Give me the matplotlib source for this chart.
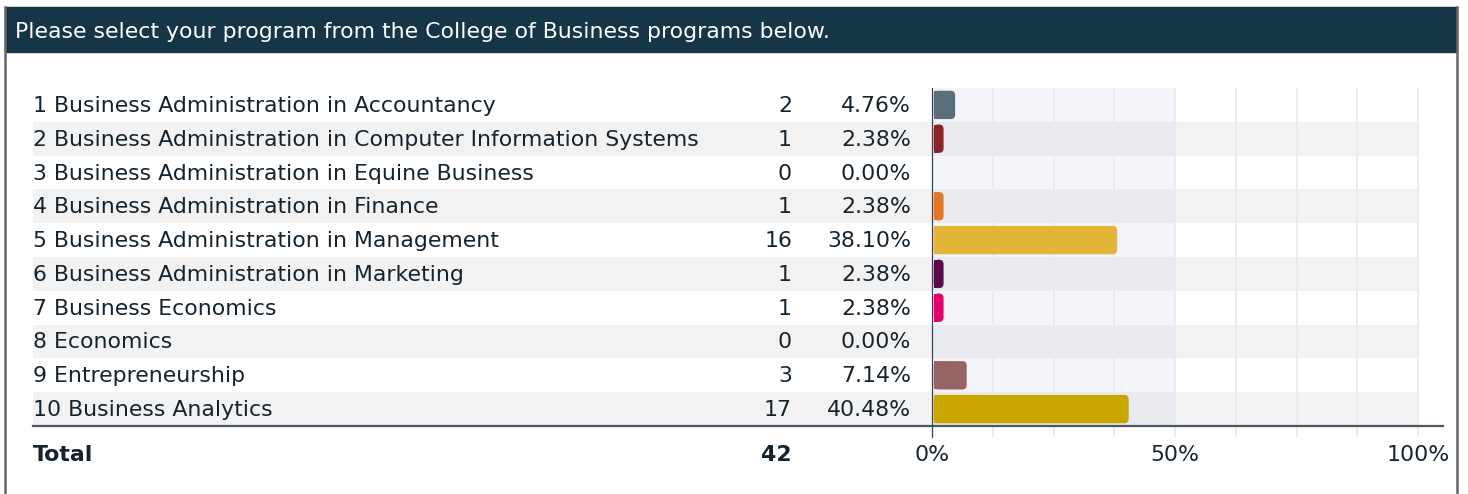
import matplotlib
matplotlib.use("Agg")
import matplotlib.pyplot as plt
from matplotlib.patches import Rectangle, FancyBboxPatch
from matplotlib.lines import Line2D

title = "Please select your program from the College of Business programs below."
categories = [
    "1 Business Administration in Accountancy",
    "2 Business Administration in Computer Information Systems",
    "3 Business Administration in Equine Business",
    "4 Business Administration in Finance",
    "5 Business Administration in Management",
    "6 Business Administration in Marketing",
    "7 Business Economics",
    "8 Economics",
    "9 Entrepreneurship",
    "10 Business Analytics",
]
counts = [2, 1, 0, 1, 16, 1, 1, 0, 3, 17]
percents = [4.76, 2.38, 0.00, 2.38, 38.10, 2.38, 2.38, 0.00, 7.14, 40.48]
colors = ["#5b6e7b", "#8b2328", "#888888", "#e87722", "#e4b437",
          "#5c0a4d", "#e8006e", "#888888", "#966464", "#c9a600"]
total_count = 42
xticks = [0, 50, 100]
xtick_labels = ["0%", "50%", "100%"]

W, H = 1468, 494
fig = plt.figure(figsize=(W / 100, H / 100), dpi=100)
plt.rcParams["font.family"] = ["DejaVu Sans"]
FS = 15.8
TXT = "#14232e"

# background axes in pixel coordinates
bg = fig.add_axes([0, 0, 1, 1])
bg.set_xlim(0, W)
bg.set_ylim(H, 0)
bg.axis("off")

# header band and borders
bg.add_patch(Rectangle((5, 7), 1452, 45, color="#163547", zorder=2))
bg.text(15, 32, title, color="white", fontsize=FS, va="center", ha="left", zorder=3)
bg.plot([5, 5], [7, H], color="#6e6466", lw=1.8, zorder=3)
bg.plot([1457, 1457], [7, H], color="#6e6466", lw=1.8, zorder=3)

row_top = 88
row_h = 33.8
x0_px, x100_px = 932, 1418
n = len(categories)
for i, (cat, c, p) in enumerate(zip(categories, counts, percents)):
    top = row_top + i * row_h
    cy = top + row_h / 2 + 1
    if i % 2 == 1:
        bg.add_patch(Rectangle((33, top), x100_px - 33, row_h, color="#f2f2f2", lw=0, zorder=1))
    bg.text(33, cy, cat, fontsize=FS, color=TXT, va="center", ha="left", zorder=3)
    bg.text(792, cy, str(c), fontsize=FS, color=TXT, va="center", ha="right", zorder=3)
    bg.text(911, cy, f"{p:.2f}%", fontsize=FS, color=TXT, va="center", ha="right", zorder=3)

tot_y = 455
bg.text(33, tot_y, "Total", fontsize=FS, color=TXT, va="center", ha="left", fontweight="bold")
bg.text(792, tot_y, str(total_count), fontsize=FS, color=TXT, va="center", ha="right", fontweight="bold")

# bar axes
bottom_px = row_top + n * row_h
ax = fig.add_axes([x0_px / W, (H - bottom_px) / H, (x100_px - x0_px) / W, (n * row_h) / H])
ax.set_facecolor("none")
ax.set_xlim(0, 100)
ax.set_ylim(n + 0.5, 0.5)
ax.axis("off")

ypos = list(range(1, n + 1))
# half band overlay
ax.axvspan(0, 50, color="#b1c4e5", alpha=0.154, lw=0, zorder=0)
# gridlines
ext = 11 / row_h
for g in [12.5, 25, 37.5, 50, 62.5, 75, 87.5, 100]:
    ax.vlines(g, 0.5, n + 0.5 + ext, color="#eaeaee", lw=1.3, clip_on=False, zorder=0.5)

bars = ax.barh(ypos, percents, height=0.84, color=colors, zorder=2)
px_per_x = (x100_px - x0_px) / 100
r_px = 4.5
r = r_px / px_per_x
ma = px_per_x / row_h
for b, col in zip(bars, colors):
    w = b.get_width()
    x, y, h = b.get_x(), b.get_y(), b.get_height()
    b.remove()
    if w <= 0:
        continue
    x = x + 0.35
    w = w - 0.35
    ax.add_patch(FancyBboxPatch((x, y), w, h,
                                boxstyle=f"round,pad=0,rounding_size={min(r, w/2)}",
                                mutation_aspect=ma, fc=col, ec="none", zorder=2))
    ax.add_patch(Rectangle((x, y), min(r, w / 2), h, fc=col, ec="none", zorder=2))

# axis lines
ax.add_line(Line2D([33, 1443], [bottom_px, bottom_px], transform=bg.transData,
                   color="#4c5769", lw=1.6, clip_on=False, zorder=3))
ax.add_line(Line2D([x0_px, x0_px], [row_top, bottom_px + 11], transform=bg.transData,
                   color="#3a4454", lw=0.9, clip_on=False, zorder=3))

for t, lab in zip(xticks, xtick_labels):
    ax.text(t, n + 0.5 + (tot_y - bottom_px) / row_h, lab, fontsize=FS, color=TXT,
            ha="center", va="center", clip_on=False)

fig.savefig("out.png", dpi=100)
